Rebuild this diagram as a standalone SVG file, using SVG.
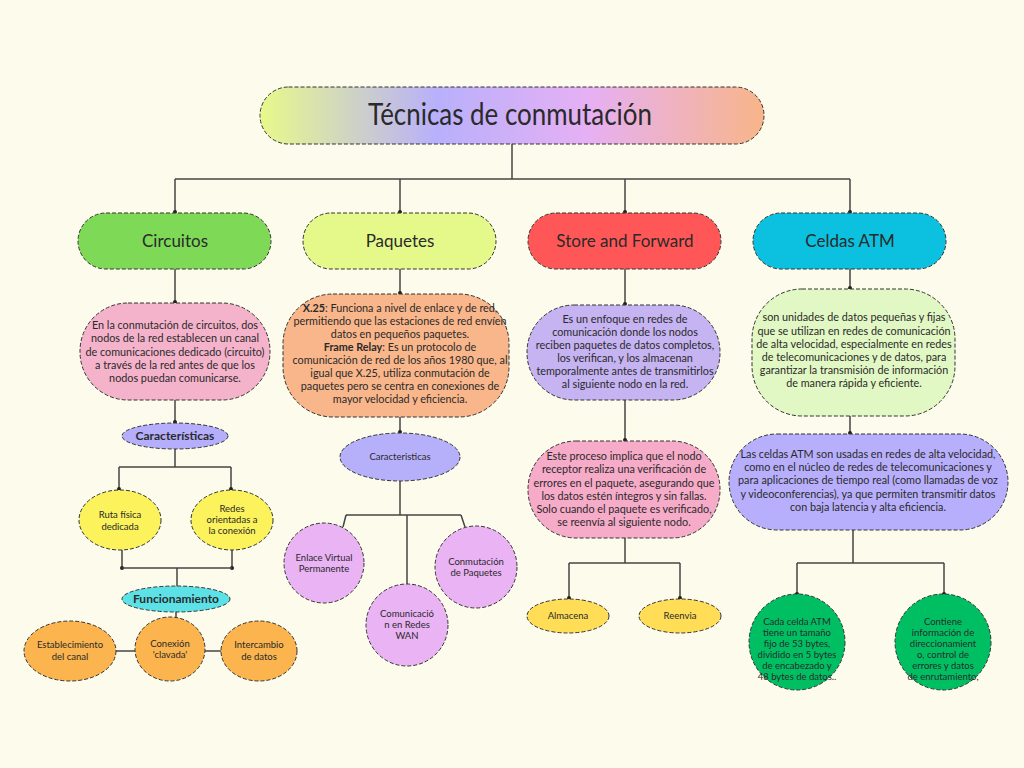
<svg xmlns="http://www.w3.org/2000/svg" width="1024" height="768" viewBox="0 0 1024 768">
<defs>
<linearGradient id="tg" x1="0" y1="0" x2="1" y2="0">
<stop offset="0" stop-color="#e8f98a"/>
<stop offset="0.35" stop-color="#b8b0fb"/>
<stop offset="0.65" stop-color="#e6b0f4"/>
<stop offset="1" stop-color="#f8b589"/>
</linearGradient>
<marker id="dot" viewBox="0 0 6 6" refX="3" refY="3" markerWidth="4" markerHeight="4" markerUnits="userSpaceOnUse">
<circle cx="3" cy="3" r="3" fill="#222"/>
</marker>
<style>
.n{stroke:#333;stroke-width:1;stroke-dasharray:4 2}
.c{fill:none;stroke:#444;stroke-width:1.5}
.d{marker-end:url(#dot)}
text{font-family:Lato,"Open Sans",sans-serif;fill:#2a2a2a;text-anchor:middle}
.t1{font-size:17px}
.s{font-size:10.8px}
.xs{font-size:9.5px}
.b{font-weight:bold}
</style>
</defs>
<rect width="1024" height="768" fill="#fdfcec"/>

<g id="connectors">
<path class="c" d="M512,144 V179 M175,179 H850"/>
<path class="c d" d="M175,179 V212"/>
<path class="c d" d="M400,179 V212"/>
<path class="c d" d="M625,179 V212"/>
<path class="c d" d="M850,179 V212"/>
<path class="c d" d="M175,269 V302"/>
<path class="c d" d="M400,269 V293"/>
<path class="c d" d="M625,269 V304"/>
<path class="c d" d="M850,269 V288"/>
<path class="c d" d="M175,400 V422"/>
<path class="c" d="M175,449 V467 M119,467 H231"/>
<path class="c d" d="M119,467 V489"/>
<path class="c d" d="M231,467 V489"/>
<path class="c d" d="M122,550 V568"/>
<path class="c d" d="M232,550 V568"/>
<path class="c" d="M122,568 H232 M177,568 V587"/>
<path class="c" d="M176,612 V620 M116,651 H135 M205,651 H221"/>
<path class="c d" d="M400,417 V432"/>
<path class="c" d="M400,481 V515 M346,515 H461 M346,515 L343,527 M461,515 L465,527 M407,515 V584"/>
<path class="c d" d="M625,400 V440"/>
<path class="c" d="M625,538 V563 M569,563 H680"/>
<path class="c d" d="M569,563 V598"/>
<path class="c d" d="M680,563 V598"/>
<path class="c d" d="M850,416 V433"/>
<path class="c" d="M853,530 V563 M797,563 H944"/>
<path class="c d" d="M797,563 V594"/>
<path class="c d" d="M944,563 V594"/>
</g>

<g id="title">
<rect class="n" x="260" y="87" width="504" height="57" rx="28.5" fill="url(#tg)"/>
<text x="510" y="125" font-size="30" textLength="284" lengthAdjust="spacingAndGlyphs">Técnicas de conmutación</text>
</g>

<g id="circuitos">
<rect class="n" x="78" y="213" width="193" height="56" rx="28" fill="#7ed957"/>
<text class="t1" x="175" y="247">Circuitos</text>
</g>
<g id="paquetes">
<rect class="n" x="303" y="213" width="193" height="56" rx="28" fill="#e5f98a"/>
<text class="t1" x="400" y="247">Paquetes</text>
</g>
<g id="store">
<rect class="n" x="528" y="213" width="193" height="56" rx="28" fill="#ff5757"/>
<text class="t1" x="625" y="247">Store and Forward</text>
</g>
<g id="celdas">
<rect class="n" x="753" y="213" width="193" height="56" rx="28" fill="#0cc0df"/>
<text class="t1" x="850" y="247">Celdas ATM</text>
</g>

<g id="circuitos-desc">
<rect class="n" x="80" y="303" width="190" height="97" rx="48" fill="#f5b3cb"/>
<text class="s" x="175" y="329">En la conmutación de circuitos, dos</text>
<text class="s" x="175" y="342">nodos de la red establecen un canal</text>
<text class="s" x="175" y="356">de comunicaciones dedicado (circuito)</text>
<text class="s" x="175" y="369">a través de la red antes de que los</text>
<text class="s" x="175" y="382">nodos puedan comunicarse.</text>
</g>

<g id="paquetes-desc">
<rect class="n" x="283" y="294" width="226" height="123" rx="50" fill="#f9b68b"/>
<text class="s" x="400" y="312"><tspan class="b">X.25</tspan>: Funciona a nivel de enlace y de red,</text>
<text class="s" x="400" y="325">permitiendo que las estaciones de red envíen</text>
<text class="s" x="400" y="338">datos en pequeños paquetes.</text>
<text class="s" x="400" y="351"><tspan class="b">Frame Relay</tspan>: Es un protocolo de</text>
<text class="s" x="400" y="364">comunicación de red de los años 1980 que, al</text>
<text class="s" x="400" y="377">igual que X.25, utiliza conmutación de</text>
<text class="s" x="400" y="390">paquetes pero se centra en conexiones de</text>
<text class="s" x="400" y="403">mayor velocidad y eficiencia.</text>
</g>

<g id="store-desc">
<rect class="n" x="527" y="305" width="193" height="95" rx="47" fill="#c5b3f2"/>
<text class="s" x="625" y="323">Es un enfoque en redes de</text>
<text class="s" x="625" y="336">comunicación donde los nodos</text>
<text class="s" x="625" y="349">reciben paquetes de datos completos,</text>
<text class="s" x="625" y="362">los verifican, y los almacenan</text>
<text class="s" x="625" y="375">temporalmente antes de transmitirlos</text>
<text class="s" x="625" y="388">al siguiente nodo en la red.</text>
</g>

<g id="celdas-desc">
<rect class="n" x="752" y="289" width="203" height="127" rx="50" fill="#e2f8c4"/>
<text class="s" x="854" y="321">son unidades de datos pequeñas y fijas</text>
<text class="s" x="854" y="335">que se utilizan en redes de comunicación</text>
<text class="s" x="854" y="348">de alta velocidad, especialmente en redes</text>
<text class="s" x="854" y="361">de telecomunicaciones y de datos, para</text>
<text class="s" x="854" y="374">garantizar la transmisión de información</text>
<text class="s" x="854" y="387">de manera rápida y eficiente.</text>
</g>

<g id="caract-circ">
<ellipse class="n" cx="175" cy="436" rx="53" ry="13" fill="#b4aefc"/>
<text class="b" x="175" y="440" font-size="12">Características</text>
</g>
<g id="ruta">
<ellipse class="n" cx="120" cy="520" rx="41" ry="30" fill="#fbf25c"/>
<text class="xs" x="120" y="518">Ruta física</text>
<text class="xs" x="120" y="530">dedicada</text>
</g>
<g id="redes-orient">
<ellipse class="n" cx="232" cy="520" rx="41" ry="30" fill="#fbf25c"/>
<text class="xs" x="232" y="512">Redes</text>
<text class="xs" x="232" y="523">orientadas a</text>
<text class="xs" x="232" y="534">la conexión</text>
</g>
<g id="funcionamiento">
<ellipse class="n" cx="176" cy="599" rx="54" ry="13" fill="#5ce1e6"/>
<text class="b" x="176" y="603" font-size="12">Funcionamiento</text>
</g>
<g id="establecimiento">
<ellipse class="n" cx="70" cy="651" rx="46" ry="30" fill="#fbb44e"/>
<text class="xs" x="70" y="648">Establecimiento</text>
<text class="xs" x="70" y="660">del canal</text>
</g>
<g id="clavada">
<ellipse class="n" cx="170" cy="649" rx="35" ry="32" fill="#fbb44e"/>
<text class="xs" x="170" y="647">Conexión</text>
<text class="xs" x="170" y="658">'clavada'</text>
</g>
<g id="intercambio">
<ellipse class="n" cx="259" cy="651" rx="38" ry="30" fill="#fbb44e"/>
<text class="xs" x="259" y="648">Intercambio</text>
<text class="xs" x="259" y="660">de datos</text>
</g>

<g id="caract-paq">
<ellipse class="n" cx="400" cy="457" rx="60" ry="24" fill="#b6b0fb"/>
<text class="xs" x="400" y="460">Caracteristicas</text>
</g>
<g id="enlace">
<circle class="n" cx="324" cy="563" r="40" fill="#e9b3f4"/>
<text class="xs" x="324" y="561">Enlace Virtual</text>
<text class="xs" x="324" y="572">Permanente</text>
</g>
<g id="wan">
<circle class="n" cx="407" cy="625" r="41" fill="#e9b3f4"/>
<text class="xs" x="407" y="617">Comunicació</text>
<text class="xs" x="407" y="628">n en Redes</text>
<text class="xs" x="407" y="639">WAN</text>
</g>
<g id="conm-paq">
<circle class="n" cx="476" cy="567" r="41" fill="#e9b3f4"/>
<text class="xs" x="476" y="565">Conmutación</text>
<text class="xs" x="476" y="576">de Paquetes</text>
</g>

<g id="store-proc">
<rect class="n" x="528" y="441" width="192" height="97" rx="48" fill="#f6abc8"/>
<text class="s" x="624" y="460">Este proceso implica que el nodo</text>
<text class="s" x="624" y="473">receptor realiza una verificación de</text>
<text class="s" x="624" y="487">errores en el paquete, asegurando que</text>
<text class="s" x="624" y="500">los datos estén íntegros y sin fallas.</text>
<text class="s" x="624" y="513">Solo cuando el paquete es verificado,</text>
<text class="s" x="624" y="526">se reenvía al siguiente nodo.</text>
</g>
<g id="almacena">
<ellipse class="n" cx="568" cy="616" rx="41" ry="17" fill="#ffdd57"/>
<text class="xs" x="568" y="619">Almacena</text>
</g>
<g id="reenvia">
<ellipse class="n" cx="680" cy="616" rx="41" ry="17" fill="#ffdd57"/>
<text class="xs" x="680" y="619">Reenvia</text>
</g>

<g id="celdas-uso">
<rect class="n" x="729" y="434" width="279" height="96" rx="48" fill="#b8affc"/>
<text class="s" x="868" y="458">Las celdas ATM son usadas en redes de alta velocidad,</text>
<text class="s" x="868" y="471">como en el núcleo de redes de telecomunicaciones y</text>
<text class="s" x="868" y="484">para aplicaciones de tiempo real (como llamadas de voz</text>
<text class="s" x="868" y="498">y videoconferencias), ya que permiten transmitir datos</text>
<text class="s" x="868" y="511">con baja latencia y alta eficiencia.</text>
</g>
<g id="celda-tam">
<circle class="n" cx="797" cy="642" r="48" fill="#00bf63"/>
<text class="xs" x="797" y="625">Cada celda ATM</text>
<text class="xs" x="797" y="636">tiene un tamaño</text>
<text class="xs" x="797" y="647">fijo de 53 bytes,</text>
<text class="xs" x="797" y="658">dividido en 5 bytes</text>
<text class="xs" x="797" y="669">de encabezado y</text>
<text class="xs" x="797" y="680">48 bytes de datos..</text>
</g>
<g id="celda-info">
<circle class="n" cx="943" cy="642" r="48" fill="#00bf63"/>
<text class="xs" x="943" y="625">Contiene</text>
<text class="xs" x="943" y="636">información de</text>
<text class="xs" x="943" y="647">direccionamient</text>
<text class="xs" x="943" y="658">o, control de</text>
<text class="xs" x="943" y="669">errores y datos</text>
<text class="xs" x="943" y="680">de enrutamiento,</text>
</g>
</svg>
